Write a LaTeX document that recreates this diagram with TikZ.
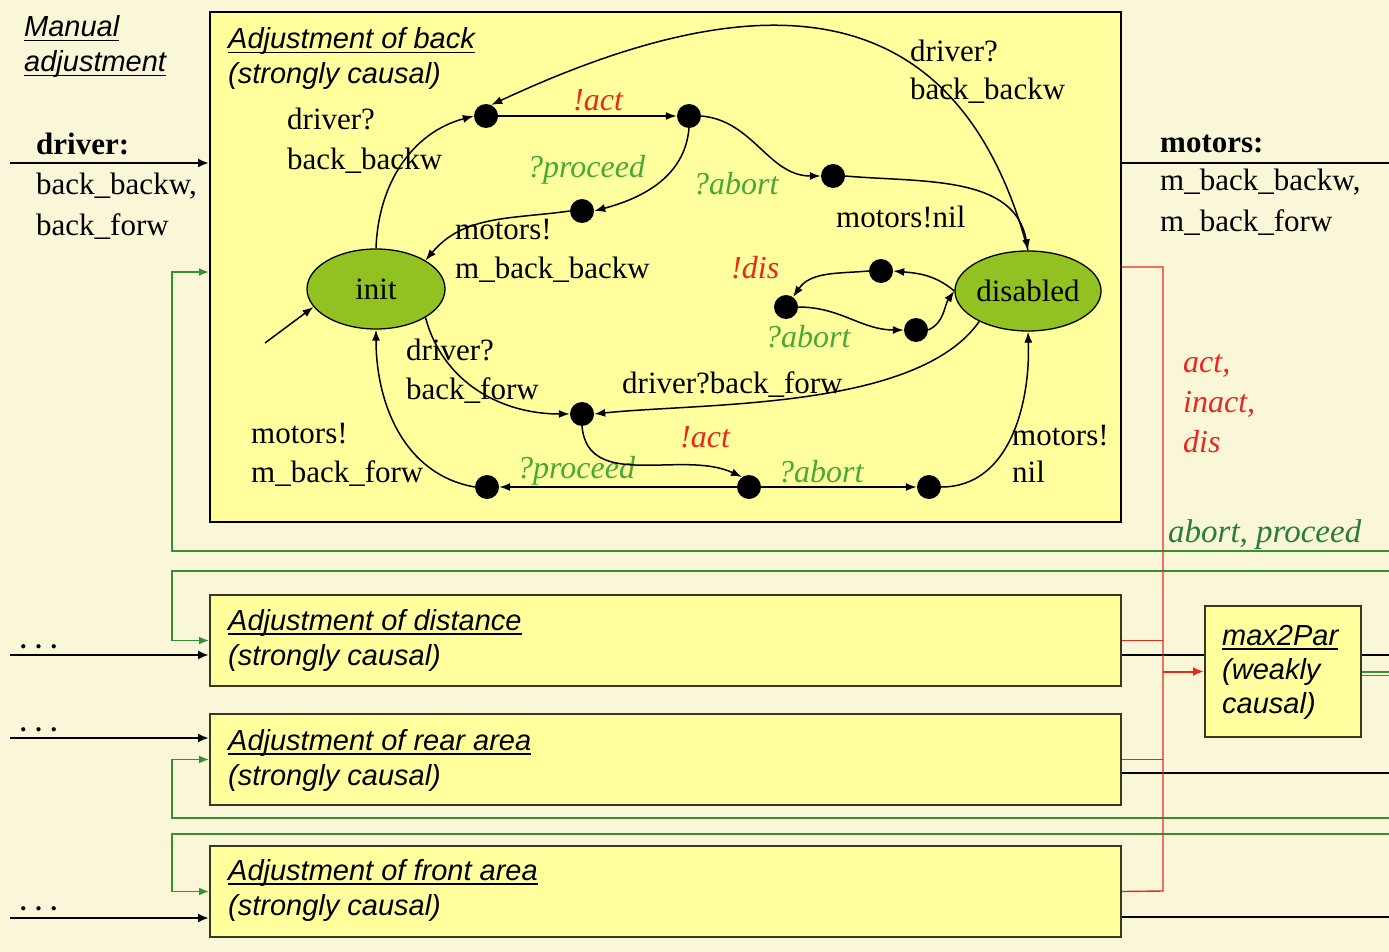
\documentclass[tikz,border=0pt]{standalone}
\usepackage{fontspec}
\setmainfont{Liberation Serif}
\setsansfont{Liberation Sans}
\usetikzlibrary{arrows.meta,shapes.geometric}

\definecolor{paper}{RGB}{250,247,216}
\definecolor{boxfill}{RGB}{255,255,158}
\definecolor{boxedge}{RGB}{55,55,35}
\definecolor{stategreen}{RGB}{146,194,34}
\definecolor{linegreen}{RGB}{50,145,50}
\definecolor{labelgreen}{RGB}{72,168,56}
\definecolor{busgreen}{RGB}{40,125,55}
\definecolor{sigred}{RGB}{232,40,30}

% underline with a rule thick enough for the large text
\newcommand\ulx[1]{\setbox0=\hbox{#1}\rlap{\rule[-4.5pt]{\wd0}{1.7pt}}\box0}

\tikzset{
  box/.style={draw=boxedge, line width=2pt, fill=boxfill, inner sep=0pt},
  title/.style={anchor=base west, inner sep=0pt, font=\sffamily\itshape\fontsize{29}{33}\selectfont},
  lbl/.style={anchor=base west, inner sep=0pt, font=\fontsize{31}{36}\selectfont},
  boldlbl/.style={lbl, font=\bfseries\fontsize{31}{36}\selectfont},
  grnlbl/.style={lbl, text=labelgreen, font=\itshape\fontsize{32}{36}\selectfont},
  redlbl/.style={lbl, text=sigred, font=\itshape\fontsize{32}{36}\selectfont},
  state/.style={ellipse, draw=black, line width=1.3pt, fill=stategreen, inner sep=0pt,
    minimum width=138, minimum height=80, font=\fontsize{31}{36}\selectfont},
  dot/.style={circle, fill=black, inner sep=0pt, minimum size=24},
  trans/.style={line width=1.5pt, -{Latex[length=11pt,width=8pt]}},
  bus/.style={line width=2.8pt, -{Latex[length=11pt,width=9pt]}},
  wire/.style={line width=2.8pt},
  gline/.style={draw=linegreen, line width=1.7pt, -{Latex[length=10pt,width=8pt]}},
  gthin/.style={draw=linegreen, line width=1.5pt},
  rline/.style={draw=sigred, line width=1.4pt},
}

\begin{document}
\begin{tikzpicture}[x=1pt, y=-1pt]
\fill[paper] (0,0) rectangle (1389,952);
\useasboundingbox (0,0) rectangle (1389,952);

% ---- component boxes
\node[box, draw=black, minimum width=911, minimum height=510] (back)  at (665.5,267) {};
\node[box, minimum width=911, minimum height=91]  (dist)  at (665.5,640.5) {};
\node[box, minimum width=911, minimum height=91]  (rear)  at (665.5,759.5) {};
\node[box, minimum width=911, minimum height=91]  (front) at (665.5,891.5) {};
\node[box, minimum width=156, minimum height=131] (mp)    at (1283,671.5) {};

% ---- titles
\node[title] (tman1) at (24,37) {\ulx{Manual}};
\node[title] (tman2) at (24,72) {\ulx{adjustment}};
\node[title] (tback1) at (228,49) {\ulx{Adjustment of back}};
\node[title] (tback2) at (228,84) {(strongly causal)};
\node[title] (tdist1) at (228,630) {\ulx{Adjustment of distance}};
\node[title] (tdist2) at (228,665) {(strongly causal)};
\node[title] (trear1) at (228,750) {\ulx{Adjustment of rear area}};
\node[title] (trear2) at (228,785) {(strongly causal)};
\node[title] (tfront1) at (228,880) {\ulx{Adjustment of front area}};
\node[title] (tfront2) at (228,915) {(strongly causal)};
\node[title] (tmp1) at (1222,645) {\ulx{max2Par}};
\node[title] (tmp2) at (1222,679) {(weakly};
\node[title] (tmp3) at (1222,713) {causal)};

% ---- interface labels
\node[boldlbl] (drv0) at (36,155) {driver:};
\node[lbl] (drv1) at (36,195) {back\_backw,};
\node[lbl] (drv2) at (36,235) {back\_forw};
\node[boldlbl] (mot0) at (1160,153) {motors:};
\node[lbl] (mot1) at (1160,191) {m\_back\_backw,};
\node[lbl] (mot2) at (1160,231) {m\_back\_forw};
\node[redlbl] (sig1) at (1183,372) {act,};
\node[redlbl] (sig2) at (1183,412) {inact,};
\node[redlbl] (sig3) at (1183,452) {dis};
\node[lbl, text=busgreen, font=\itshape\fontsize{33}{36}\selectfont] (sig4) at (1168,542) {abort, proceed};
\node[lbl, font=\bfseries\fontsize{26}{30}\selectfont] (dots1) at (20,648) {. . .};
\node[lbl, font=\bfseries\fontsize{26}{30}\selectfont] (dots2) at (20,731) {. . .};
\node[lbl, font=\bfseries\fontsize{26}{30}\selectfont] (dots3) at (20,910) {. . .};

% ---- black data lines
\coordinate (drvsrc) at (10,163);
\coordinate (motdst) at (1389,163);
\draw[bus] (drvsrc) -- (drvsrc -| back.west);
\draw[wire] (motdst -| back.east) -- (motdst);
\coordinate (dsrc) at (10,655);
\coordinate (rsrc) at (10,738);
\coordinate (fsrc) at (10,918);
\draw[bus] (dsrc) -- (dsrc -| dist.west);
\draw[bus] (rsrc) -- (rsrc -| rear.west);
\draw[bus] (fsrc) -- (fsrc -| front.west);
\coordinate (dout) at (1389,655);
\draw[wire] (dsrc -| dist.east) -- (dsrc -| mp.west);
\draw[wire] (dout -| mp.east) -- (dout);
\coordinate (rout) at (1389,773);
\coordinate (fout) at (1389,917);
\draw[wire] (rout -| rear.east) -- (rout);
\draw[wire] (fout -| front.east) -- (fout);

% ---- green control loops
\coordinate (gret1) at (1389,551);
\coordinate (gret2) at (1389,571);
\coordinate (gret3) at (1389,818);
\coordinate (gret4) at (1389,834);
\draw[gline] (gret1) -| ([xshift=-37pt,yshift=-5pt]back.west) -- ([yshift=-5pt]back.west);
\draw[gline] (gret2) -| ([xshift=-37pt]dist.west) -- (dist.west);
\draw[gline] (gret3) -| ([xshift=-37pt]rear.west) -- (rear.west);
\draw[gline] (gret4) -| ([xshift=-37pt]front.west) -- (front.west);
\coordinate (gout1) at (1389,672);
\coordinate (gout2) at (1389,675.5);
\draw[gthin] (gout1 -| mp.east) -- (gout1);
\draw[gthin] (gout2 -| mp.east) -- (gout2);

% ---- red status bus
\coordinate (rbus) at (1163,891);
\draw[rline] (back.east) -| (rbus) -- (front.east);
\draw[rline] (dist.east) -- (dist.east -| rbus);
\draw[rline] (rear.east) -- (rear.east -| rbus);
\draw[rline, line width=2pt, -{Latex[length=11pt,width=9pt]}] (mp.west -| rbus) -- (mp.west);

% ---- automaton: states
\node[state] (init) at (376,289) {init};
\node[state, minimum width=137] (dis) at (1028,291) {disabled};
\node[dot] (A) at (486,116) {};
\node[dot] (B) at (689,116) {};
\node[dot] (C) at (833,176) {};
\node[dot] (D) at (582,211) {};
\node[dot] (E) at (881,271) {};
\node[dot] (F) at (786,307) {};
\node[dot] (G) at (916,330) {};
\node[dot] (H) at (582,414) {};
\node[dot] (I) at (487,487) {};
\node[dot] (J) at (749,487) {};
\node[dot] (K) at (929,487) {};

% ---- automaton: transition labels
\node[lbl] (la1) at (287,130) {driver?};
\node[lbl] (la2) at (287,170) {back\_backw};
\node[redlbl] (lab) at (573,111) {!act};
\node[grnlbl] (lbd) at (527,178) {?proceed};
\node[grnlbl] (lbc) at (693,195) {?abort};
\node[lbl] (ld1) at (455,240) {motors!};
\node[lbl] (ld2) at (455,278) {m\_back\_backw};
\node[lbl] (lc) at (836,227) {motors!nil};
\node[lbl] (lq1) at (910,62) {driver?};
\node[lbl] (lq2) at (910,100) {back\_backw};
\node[redlbl] (le) at (731,278) {!dis};
\node[grnlbl] (lfg) at (765,347) {?abort};
\node[lbl] (lh1) at (406,360) {driver?};
\node[lbl] (lh2) at (406,399) {back\_forw};
\node[lbl] (ldh) at (622,393) {driver?back\_forw};
\node[redlbl] (lhj) at (680,447) {!act};
\node[lbl] (li1) at (251,443) {motors!};
\node[lbl] (li2) at (251,482) {m\_back\_forw};
\node[grnlbl] (lji) at (517,478) {?proceed};
\node[grnlbl] (ljk) at (778,482) {?abort};
\node[lbl] (lk1) at (1012,445) {motors!};
\node[lbl] (lk2) at (1012,482) {nil};

% ---- automaton: transitions
\coordinate (entry) at (265,343);
\draw[trans] (entry) -- (init.-164);
\draw[trans] (init.north) to[out=88,in=195] (A.west);
\draw[trans] (A) -- (B);
\draw[trans] (B.south) to[out=-95,in=15] (D.east);
\draw[trans] (D.west) to[out=188,in=50] (init.30);
\draw[trans] (B.east) to[out=-5,in=180] (C.west);
\draw[trans] (C.east) to[out=-5,in=100] (dis.north);
\draw[trans] (dis.north) to[out=105,in=25,looseness=1.3] (A.65);
\draw[trans] (dis.west) to[out=140,in=-5] (E.east);
\draw[trans] (E.west) to[out=185,in=55] (F.55);
\draw[trans] (F.east) to[out=0,in=180] (G.west);
\draw[trans] (G.east) to[out=25,in=235] (dis.west);
\draw[trans] (init.-30) to[out=-75,in=180] (H.west);
\draw[trans] (dis.-148) to[out=-125,in=6,looseness=0.7] (H.east);
\draw[trans] (H.south) to[out=-85,in=155] (J.125);
\draw[trans] (J) -- (I);
\draw[trans] (I.west) to[out=170,in=-90] (init.south);
\draw[trans] (J) -- (K);
\draw[trans] (K.east) to[out=0,in=-88] (dis.south);
\end{tikzpicture}
\end{document}
